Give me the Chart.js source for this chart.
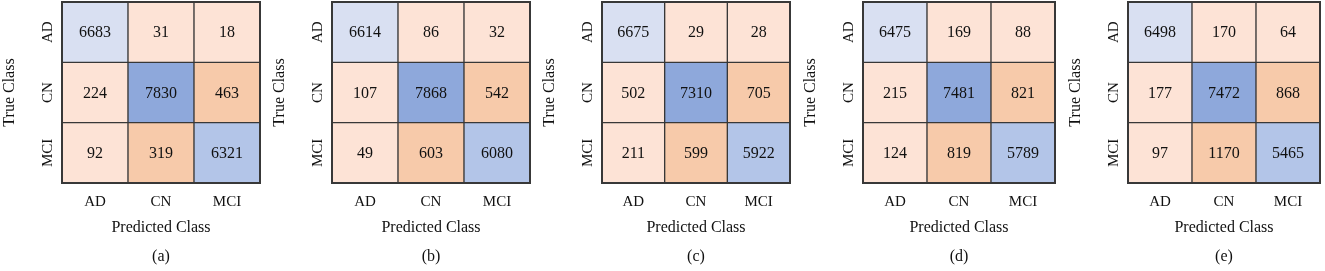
<!DOCTYPE html>
<html><head><meta charset="utf-8">
<script src="https://cdn.jsdelivr.net/npm/chart.js@4"></script>
<style>
body{margin:0;background:#fff;width:1325px;height:271px;position:relative;overflow:hidden}
canvas{position:absolute;top:0}
</style></head><body>
<script>
// ---- data ----
const predictedClasses = ['AD', 'CN', 'MCI'];
const trueClasses = ['AD', 'CN', 'MCI'];
const panelLabels = ['(a)', '(b)', '(c)', '(d)', '(e)'];
const matrixA = [[6683, 31, 18], [224, 7830, 463], [92, 319, 6321]];
const matrixB = [[6614, 86, 32], [107, 7868, 542], [49, 603, 6080]];
const matrixC = [[6675, 29, 28], [502, 7310, 705], [211, 599, 5922]];
const matrixD = [[6475, 169, 88], [215, 7481, 821], [124, 819, 5789]];
const matrixE = [[6498, 170, 64], [177, 7472, 868], [97, 1170, 5465]];
const matrices = [matrixA, matrixB, matrixC, matrixD, matrixE];

// ---- layout / style ----
const boxLeft = [62, 332, 602, 863, 1128];
const boxRight = [260, 530, 790, 1055, 1320];
const axisW = 62;
const FONT = '"Liberation Serif", "Times New Roman", serif';
const TXT = '#111';
const diagColors = ['#d9e0f2', '#8ea8db', '#b3c5e8'];
const offLight = '#fde3d6';
const offDeep = '#f7caaa';
const lineColor = '#383838';

function cellColor(r, c) {
  if (r === c) return diagColors[r];
  if (r > 0 && c > 0) return offDeep;
  return offLight;
}

function makeCellText(matrix) {
  return {
    id: 'cellText',
    afterDatasetsDraw(chart) {
      const ctx = chart.ctx;
      ctx.save();
      ctx.font = '16px ' + FONT;
      ctx.fillStyle = TXT;
      ctx.textAlign = 'center';
      ctx.textBaseline = 'middle';
      chart.data.datasets.forEach((ds, r) => {
        chart.getDatasetMeta(r).data.forEach((el, c) => {
          ctx.fillText(String(matrix[r][c]), el.x, (el.y + el.base) / 2 + 1);
        });
      });
      const a = chart.chartArea;
      ctx.strokeStyle = lineColor;
      ctx.lineWidth = 2;
      ctx.strokeRect(a.left, a.top, a.right - a.left, a.bottom - a.top);
      ctx.restore();
    }
  };
}

matrices.forEach((matrix, i) => {
  const cv = document.createElement('canvas');
  const w = boxRight[i] - boxLeft[i] + axisW + 3;
  cv.width = w; cv.height = 271;
  cv.style.left = (boxLeft[i] - axisW) + 'px';
  cv.style.width = w + 'px'; cv.style.height = '271px';
  document.body.appendChild(cv);
  new Chart(cv, {
    type: 'bar',
    data: {
      labels: predictedClasses,
      datasets: trueClasses.map((t, r) => ({
        label: t,
        data: predictedClasses.map(() => [r, r + 1]),
        backgroundColor: predictedClasses.map((_, c) => cellColor(r, c)),
        borderColor: lineColor,
        borderWidth: 1,
        borderSkipped: false,
        barPercentage: 1,
        categoryPercentage: 1,
        grouped: false
      }))
    },
    options: {
      responsive: false,
      animation: false,
      layout: { padding: { top: 2, right: 3, left: 0, bottom: 0 } },
      plugins: {
        legend: { display: false },
        tooltip: { enabled: false },
        title: { display: false }
      },
      scales: {
        x: {
          grid: { display: false }, border: { display: false },
          ticks: { font: { family: FONT, size: 15 }, color: TXT, padding: 2 },
          title: {
            display: true, text: ['Predicted Class', panelLabels[i]],
            font: { family: FONT, size: 16, lineHeight: '29px' }, color: TXT, padding: 0
          },
          afterFit: s => { s.height = 88; }
        },
        y: {
          min: 0, max: 3, reverse: true,
          grid: { display: false }, border: { display: false },
          afterBuildTicks: s => { s.ticks = trueClasses.map((_, k) => ({ value: k + 0.5 })); },
          ticks: {
            callback: (v, k) => trueClasses[k],
            minRotation: 90, maxRotation: 90, crossAlign: 'center', padding: -8,
            font: { family: FONT, size: 15 }, color: TXT
          },
          title: { display: true, text: 'True Class', font: { family: FONT, size: 16 }, color: TXT, padding: 0 },
          afterFit: s => { s.width = axisW; }
        }
      }
    },
    plugins: [makeCellText(matrix)]
  });
});
</script>
</body></html>
